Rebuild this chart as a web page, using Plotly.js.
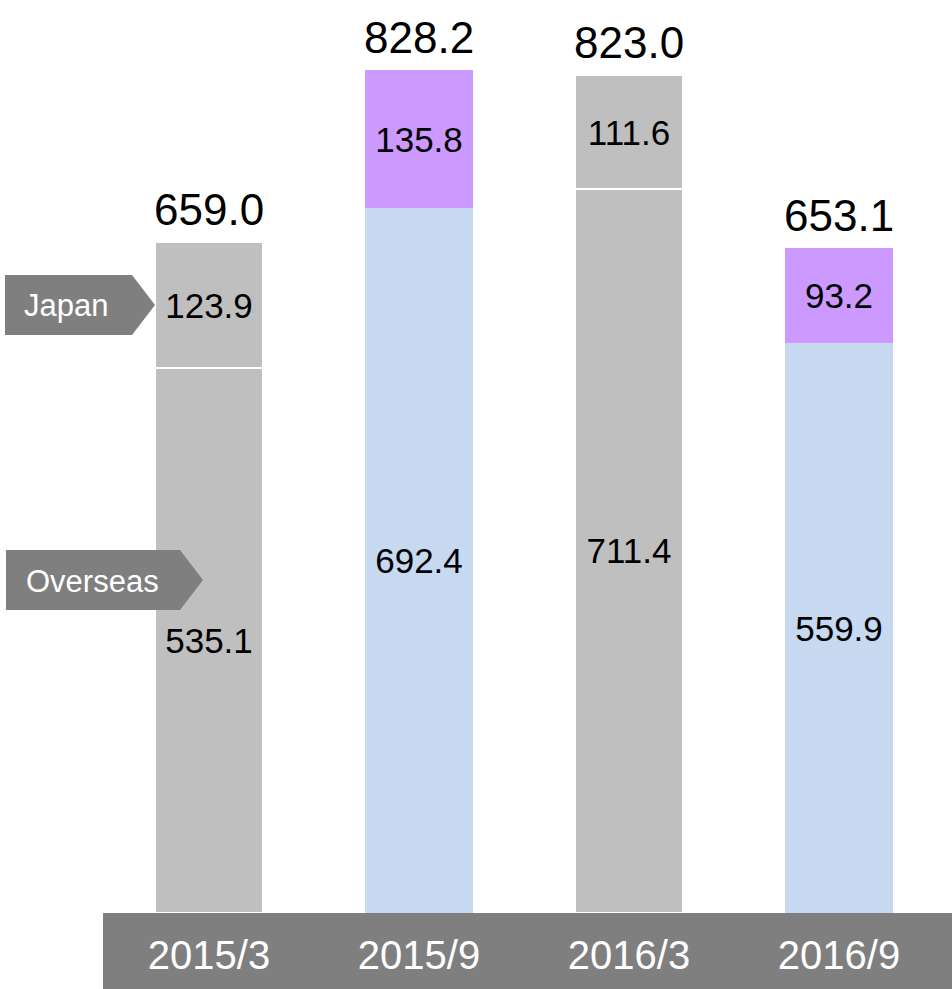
<!DOCTYPE html>
<html>
<head>
<meta charset="utf-8">
<script src="https://cdn.plot.ly/plotly-3.0.1.min.js"></script>
<style>html,body{margin:0;padding:0;background:#fff;}#chart{width:952px;height:989px;}</style>
</head>
<body>
<div id="chart"></div>
<script>
const categories = ["2015/3", "2015/9", "2016/3", "2016/9"];
const overseas = [535.1, 692.4, 711.4, 559.9];
const japan = [123.9, 135.8, 111.6, 93.2];
const totals = [659.0, 828.2, 823.0, 653.1];
const overseasColors = ["#bfbfbf", "#c6d9f0", "#bfbfbf", "#c6d9f0"];
const japanColors = ["#bfbfbf", "#cc99ff", "#bfbfbf", "#cc99ff"];
const lineWidths = [2, 0, 2, 0];

const W = 952, H = 989;
const L = 104, R = 8, T = 0, B = 76;
const pw = W - L - R, ph = H - T - B;
const px = x => (x - L) / pw;
const py = y => (H - B - y) / ph;

const font = "Liberation Sans, Arial, sans-serif";

const traces = [
  {
    type: "bar", name: "Overseas", x: categories, y: overseas,
    marker: {color: overseasColors, line: {color: "#ffffff", width: lineWidths}},
    text: overseas.map(v => v.toFixed(1)), textposition: "inside",
    insidetextanchor: "middle", textangle: 0,
    textfont: {family: font, size: 35, color: "#000000"},
    hoverinfo: "none"
  },
  {
    type: "bar", name: "Japan", x: categories, y: japan,
    marker: {color: japanColors, line: {color: "#ffffff", width: lineWidths}},
    text: japan.map(v => v.toFixed(1)), textposition: "inside",
    insidetextanchor: "middle", textangle: 0,
    textfont: {family: font, size: 35, color: "#000000"},
    hoverinfo: "none"
  }
];

const annotations = categories.map((c, i) => ({
  x: c, y: totals[i], xref: "x", yref: "y",
  text: totals[i].toFixed(1), showarrow: false,
  yanchor: "bottom", yshift: 6,
  font: {family: font, size: 44, color: "#000000"}
}));

function arrowPath(x0, y0, x1, tip, y1) {
  const ym = (y0 + y1) / 2;
  return `M ${px(x0)} ${py(y0)} L ${px(x1)} ${py(y0)} L ${px(tip)} ${py(ym)} L ${px(x1)} ${py(y1)} L ${px(x0)} ${py(y1)} Z`;
}

const shapes = [
  {type: "rect", xref: "paper", yref: "paper", x0: px(103), x1: px(952), y0: py(989), y1: py(913),
   fillcolor: "#7f7f7f", line: {width: 0}, layer: "below"},
  {type: "path", xref: "paper", yref: "paper", path: arrowPath(5, 275, 132, 155, 335),
   fillcolor: "#7f7f7f", line: {width: 0}},
  {type: "path", xref: "paper", yref: "paper", path: arrowPath(6, 550, 180, 203, 610),
   fillcolor: "#7f7f7f", line: {width: 0}}
];

annotations.push(
  {xref: "paper", yref: "paper", x: px(66), y: py(305), text: "Japan", showarrow: false,
   xanchor: "center", yanchor: "middle", font: {family: font, size: 31, color: "#ffffff"}},
  {xref: "paper", yref: "paper", x: px(92), y: py(581), text: "Overseas", showarrow: false,
   xanchor: "center", yanchor: "middle", font: {family: font, size: 31, color: "#ffffff"}}
);

const layout = {
  width: W, height: H,
  margin: {l: L, r: R, t: T, b: B, pad: 0},
  paper_bgcolor: "#ffffff", plot_bgcolor: "#ffffff",
  barmode: "stack", bargap: 0.486,
  showlegend: false,
  xaxis: {type: "category", range: [-0.5, 3.5], showgrid: false, zeroline: false, showline: false,
          ticks: "", ticklabelstandoff: 15,
          tickfont: {family: font, size: 40, color: "#ffffff"}, fixedrange: true},
  yaxis: {range: [0, 897], visible: false, fixedrange: true},
  shapes: shapes,
  annotations: annotations
};

Plotly.newPlot("chart", traces, layout, {displayModeBar: false, staticPlot: true});
</script>
</body>
</html>
